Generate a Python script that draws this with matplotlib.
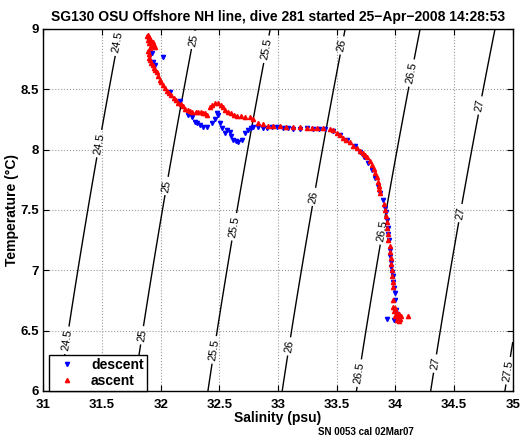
import numpy as np
import matplotlib
matplotlib.use("Agg")
import matplotlib.pyplot as plt
from matplotlib.ticker import FormatStrFormatter

plt.rcParams['font.family'] = ['Liberation Sans', 'DejaVu Sans']
plt.rcParams['font.weight'] = 'bold'

# descent (down-cast) salinity / temperature
desc_S = [31.91, 31.925, 31.925, 31.934, 31.95, 32.02, 32.08, 32.16, 32.23, 32.27,
          32.29, 32.31, 32.33, 32.36, 32.39, 32.44, 32.46, 32.48, 32.49, 32.505,
          32.52, 32.55, 32.56, 32.59, 32.60, 32.615, 32.64, 32.66, 32.69, 32.72,
          32.74, 32.77, 32.79, 32.83, 32.87, 32.905, 32.95, 32.99, 33.04, 33.08,
          33.13, 33.19, 33.25, 33.30, 33.35, 33.40, 33.47, 33.53, 33.59, 33.655,
          33.70, 33.73, 33.765, 33.80, 33.83, 33.85, 33.87, 33.89, 33.91, 33.92,
          33.93, 33.935, 33.94, 33.945, 33.95, 33.955, 33.96, 33.965, 33.97, 33.975,
          33.98, 33.99, 33.996, 33.996, 34.005, 34.02, 33.99, 33.93, 34.01]
desc_T = [8.785, 8.80, 8.72, 8.73, 8.70, 8.77, 8.48, 8.40, 8.29, 8.27,
          8.23, 8.22, 8.205, 8.19, 8.19, 8.22, 8.25, 8.30, 8.29, 8.22,
          8.18, 8.14, 8.16, 8.15, 8.11, 8.08, 8.07, 8.06, 8.08, 8.14,
          8.16, 8.18, 8.19, 8.19, 8.18, 8.18, 8.19, 8.19, 8.18, 8.18,
          8.17, 8.17, 8.18, 8.17, 8.17, 8.17, 8.155, 8.12, 8.08, 8.03,
          7.98, 7.94, 7.89, 7.83, 7.765, 7.70, 7.64, 7.58, 7.52, 7.48,
          7.42, 7.35, 7.30, 7.25, 7.17, 7.12, 7.07, 7.03, 6.99, 6.95,
          6.90, 6.85, 6.81, 6.755, 6.67, 6.62, 6.59, 6.60, 6.64]

# ascent (up-cast) salinity / temperature
asc_S = [31.88, 31.89, 31.90, 31.91, 31.89, 31.92, 31.93, 31.90, 31.94, 31.92,
         31.95, 31.91, 31.89, 31.90, 31.90, 31.91, 31.92, 31.93, 31.94, 31.95,
         31.97, 31.98, 31.99, 32.00, 32.02, 32.04, 32.05, 32.07, 32.09, 32.11,
         32.13, 32.15, 32.17, 32.19, 32.21, 32.23, 32.25, 32.27, 32.30, 32.32,
         32.34, 32.36, 32.38, 32.394, 32.42, 32.436, 32.46, 32.49, 32.51, 32.53,
         32.55, 32.57, 32.60, 32.62, 32.65, 32.68, 32.72, 32.76, 32.79, 32.83,
         32.87, 32.91, 32.96, 33.02, 33.07, 33.13, 33.19, 33.25, 33.29, 33.33,
         33.38, 33.44, 33.47, 33.50, 33.53, 33.55, 33.58, 33.61, 33.64, 33.67,
         33.70, 33.72, 33.74, 33.76, 33.78, 33.80, 33.82, 33.83, 33.84, 33.85,
         33.86, 33.86, 33.87, 33.90, 33.91, 33.92, 33.93, 33.93, 33.94, 33.94,
         33.95, 33.95, 33.96, 33.96, 33.97, 33.97, 33.98, 33.98, 33.98, 33.98,
         34.00, 33.99, 34.01, 34.03, 34.00, 34.02, 34.04, 34.01, 34.03, 34.05,
         34.11]
asc_T = [8.94, 8.95, 8.93, 8.92, 8.91, 8.90, 8.89, 8.88, 8.87, 8.86,
         8.85, 8.84, 8.82, 8.79, 8.76, 8.74, 8.72, 8.70, 8.68, 8.66,
         8.64, 8.61, 8.58, 8.56, 8.54, 8.51, 8.49, 8.47, 8.45, 8.43,
         8.41, 8.39, 8.38, 8.36, 8.34, 8.33, 8.32, 8.31, 8.31, 8.31,
         8.31, 8.30, 8.30, 8.29, 8.35, 8.37, 8.39, 8.39, 8.37, 8.35,
         8.33, 8.31, 8.30, 8.29, 8.28, 8.28, 8.27, 8.27, 8.25, 8.22,
         8.21, 8.20, 8.20, 8.20, 8.19, 8.19, 8.19, 8.18, 8.18, 8.18,
         8.18, 8.17, 8.16, 8.14, 8.12, 8.10, 8.08, 8.06, 8.03, 8.01,
         7.99, 7.97, 7.955, 7.94, 7.91, 7.87, 7.84, 7.81, 7.77, 7.73,
         7.70, 7.67, 7.64, 7.55, 7.50, 7.45, 7.40, 7.35, 7.30, 7.25,
         7.20, 7.15, 7.10, 7.05, 7.00, 6.95, 6.90, 6.86, 6.75, 6.70,
         6.69, 6.66, 6.65, 6.64, 6.62, 6.61, 6.60, 6.59, 6.58, 6.62,
         6.62]

sigma_levels = [24.5, 25, 25.5, 26, 26.5, 27, 27.5]
xticks = [31, 31.5, 32, 32.5, 33, 33.5, 34, 34.5, 35]
yticks = [6, 6.5, 7, 7.5, 8, 8.5, 9]


def sigma0(S, T):
    # UNESCO EOS-80 density at zero pressure, minus 1000
    rw = (999.842594 + 6.793952e-2 * T - 9.095290e-3 * T**2 + 1.001685e-4 * T**3
          - 1.120083e-6 * T**4 + 6.536332e-9 * T**5)
    A = 8.24493e-1 - 4.0899e-3 * T + 7.6438e-5 * T**2 - 8.2467e-7 * T**3 + 5.3875e-9 * T**4
    B = -5.72466e-3 + 1.0227e-4 * T - 1.6546e-6 * T**2
    C = 4.8314e-4
    return rw + A * S + B * S**1.5 + C * S**2 - 1000


fig = plt.figure(figsize=(5.22, 4.42), dpi=100)
ax = fig.add_axes([0.0833, 0.1154, 0.899, 0.819])

sg, tg = np.meshgrid(np.linspace(31, 35, 200), np.linspace(6, 9, 200))
cs = ax.contour(sg, tg, sigma0(sg, tg), levels=sigma_levels, colors='k', linewidths=1.0)
label_pos = [(31.635, 8.89), (31.42, 8.06), (31.2, 6.42),
             (32.275, 8.91), (31.925, 7.72), (31.85, 6.46),
             (32.91, 8.83), (32.57, 7.37), (32.46, 6.34),
             (33.51, 8.87), (33.30, 7.61), (33.09, 6.37),
             (34.11, 8.64), (33.87, 7.33), (33.68, 6.15),
             (34.81, 8.35), (34.52, 7.48), (34.32, 6.23),
             (34.95, 6.17)]
ax.clabel(cs, fmt='%g', fontsize=8, manual=label_pos, inline=True, inline_spacing=3)
for t in cs.labelTexts:
    t.set_fontweight('normal')

ax.plot(desc_S, desc_T, 'v', color='#0000ff', ms=3, mec='#0000ff', label='descent')
ax.plot(asc_S, asc_T, '^', color='#ff0000', ms=3, mec='#ff0000', label='ascent')

ax.set_xlim(31, 35)
ax.set_ylim(6, 9)
ax.set_xticks(xticks)
ax.set_yticks(yticks)
ax.xaxis.set_major_formatter(FormatStrFormatter('%g'))
ax.yaxis.set_major_formatter(FormatStrFormatter('%g'))
ax.tick_params(direction='in', labelsize=9.5, length=4, pad=3, top=True, right=True)
ax.tick_params(axis='x', pad=6)
ax.grid(True, linestyle=':', color='#999999', linewidth=0.8)
for sp in ax.spines.values():
    sp.set_linewidth(1.0)

ax.set_xlabel('Salinity (psu)', fontsize=10, fontweight='bold', labelpad=0)
ax.set_ylabel('Temperature (\u00b0C)', fontsize=10, fontweight='bold', labelpad=1)
ax.set_title('SG130 OSU Offshore NH line, dive 281 started 25\u2212Apr\u22122008 14:28:53',
             fontsize=10, fontweight='bold', pad=6)

leg = ax.legend(loc='lower left', bbox_to_anchor=(0.011, 0.0), borderaxespad=0.0,
                fontsize=10, fancybox=False, framealpha=1, edgecolor='k',
                handlelength=2.2, handletextpad=0.6, borderpad=0.25, labelspacing=0.1)
leg.get_frame().set_linewidth(1.0)

fig.text(0.70, 0.015, 'SN 0053 cal 02Mar07', fontsize=7, fontweight='bold', ha='center')

fig.savefig('out.png', dpi=100)
